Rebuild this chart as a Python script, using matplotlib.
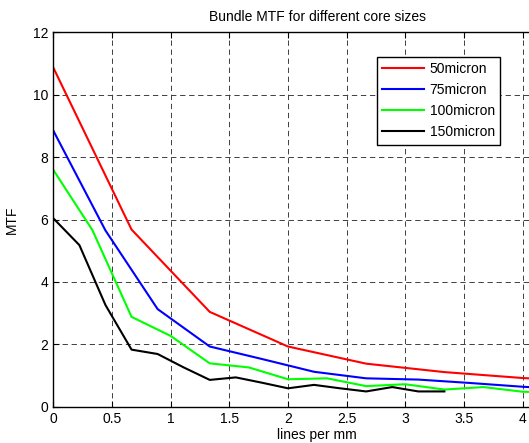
import matplotlib.pyplot as plt

plt.rcParams['font.family'] = ['Liberation Sans', 'DejaVu Sans']

# data
x_50 = [0, 2/3, 4/3, 2, 8/3, 10/3, 4, 14/3]
mtf_50 = [10.87, 5.68, 3.04, 1.93, 1.38, 1.11, 0.92, 0.80]

x_75 = [0, 4/9, 8/9, 4/3, 16/9, 20/9, 8/3, 28/9, 32/9, 4, 40/9]
mtf_75 = [8.85, 5.65, 3.13, 1.93, 1.53, 1.12, 0.91, 0.87, 0.76, 0.64, 0.55]

x_100 = [0, 1/3, 2/3, 1, 4/3, 5/3, 2, 7/3, 8/3, 3, 10/3, 11/3, 4, 13/3]
mtf_100 = [7.59, 5.66, 2.88, 2.27, 1.39, 1.26, 0.88, 0.91, 0.66, 0.72, 0.55, 0.63, 0.48, 0.45]

x_150 = [0, 2/9, 4/9, 6/9, 8/9, 10/9, 12/9, 14/9, 16/9, 18/9, 20/9, 22/9, 24/9, 26/9, 28/9, 30/9]
mtf_150 = [6.04, 5.18, 3.26, 1.83, 1.69, 1.26, 0.86, 0.94, 0.77, 0.59, 0.70, 0.59, 0.49, 0.63, 0.49, 0.49]

labels = ["50micron", "75micron", "100micron", "150micron"]
xticks = [0, 0.5, 1, 1.5, 2, 2.5, 3, 3.5, 4, 4.5]
xticklabels = ["0", "0.5", "1", "1.5", "2", "2.5", "3", "3.5", "4", "4.5"]
yticks = [0, 2, 4, 6, 8, 10, 12]

fig = plt.figure(figsize=(5.29, 4.43), dpi=100)
# axes run past the right edge, as in the cropped original
ax = fig.add_axes([0.1008, 0.0819, 0.998, 0.845])

ax.plot(x_50, mtf_50, color="red", lw=1.5, label=labels[0])
ax.plot(x_75, mtf_75, color="blue", lw=1.5, label=labels[1])
ax.plot(x_100, mtf_100, color="#00ff00", lw=1.5, label=labels[2])
ax.plot(x_150, mtf_150, color="black", lw=1.5, label=labels[3])

ax.set_xlim(0, 4.5)
ax.set_ylim(0, 12)
ax.set_xticks(xticks)
ax.set_xticklabels(xticklabels)
ax.set_yticks(yticks)
ax.tick_params(direction="in", top=True, right=True, length=4, width=0.8,
               labelsize=10, pad=3.5)
ax.grid(True, color="0.25", linestyle=(0, (5.5, 3.8)), linewidth=0.7)
for s in ax.spines.values():
    s.set_linewidth(1.0)

ax.set_title("Bundle MTF for different core sizes", fontsize=10, pad=8)
ax.set_xlabel("lines per mm", fontsize=10, labelpad=2)
ax.set_ylabel("MTF", fontsize=10, labelpad=10)

leg = ax.legend(loc="upper left", bbox_to_anchor=(0.6126, 0.9348), fontsize=10,
                handlelength=3.0, handletextpad=0.4, labelspacing=0.5,
                borderpad=0.4, fancybox=False, framealpha=1, borderaxespad=0)
leg.get_frame().set_edgecolor("black")
leg.get_frame().set_linewidth(1.0)

plt.savefig("out.png", dpi=100)
